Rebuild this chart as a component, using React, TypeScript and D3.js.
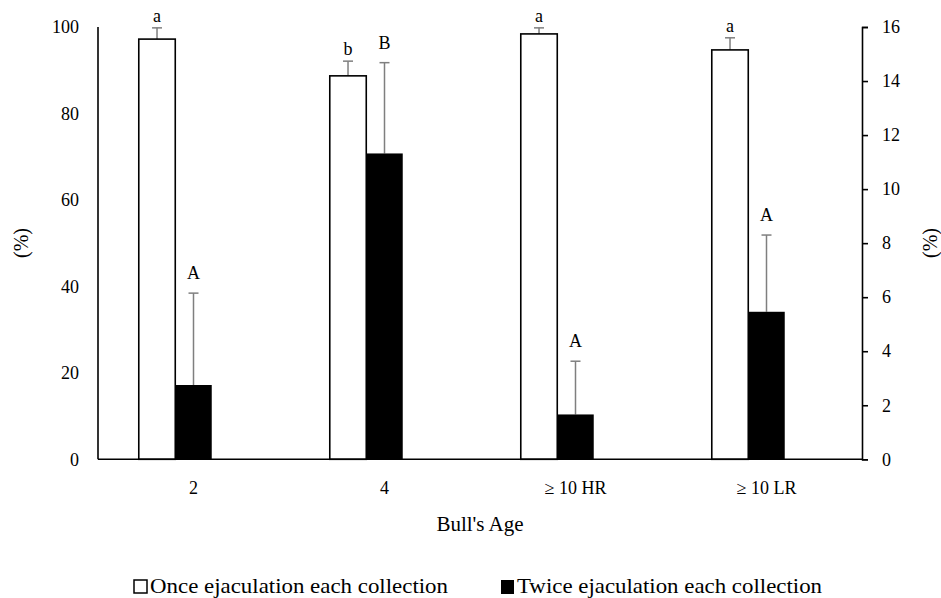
import * as d3 from 'd3'
import { useEffect, useRef } from 'react'

const categories = ['2', '4', '≥ 10 HR', '≥ 10 LR']
const onceValues = [97.2, 88.7, 98.4, 94.7]
const onceErrors = [2.6, 3.4, 1.4, 2.8]
const onceLetters = ['a', 'b', 'a', 'a']
const twiceValues = [2.75, 11.32, 1.66, 5.46]
const twiceErrors = [3.4, 3.36, 1.97, 2.84]
const twiceLetters = ['A', 'B', 'A', 'A']
const leftTicks = [0, 20, 40, 60, 80, 100]
const rightTicks = [0, 2, 4, 6, 8, 10, 12, 14, 16]

const W = 941
const H = 598
const FONT = 'Liberation Serif, DejaVu Serif, Times New Roman, serif'

export default function App() {
  const ref = useRef<SVGSVGElement>(null)

  useEffect(() => {
    const svg = d3.select(ref.current)
    svg.selectAll('*').remove()
    const left = 98, right = 862, top = 27, bottom = 459.3

    const x0 = d3.scaleBand().domain(categories).range([left, right]).paddingInner(0.427).paddingOuter(0.2135)
    // third slot is empty (hidden series in the original)
    const x1 = d3.scaleBand().domain(['once', 'twice', 'blank']).range([0, x0.bandwidth()])
    const yL = d3.scaleLinear().domain([0, 100]).range([bottom, top])
    const yR = d3.scaleLinear().domain([0, 16]).range([bottom, top])

    const g = svg.append('g').style('font-family', FONT)

    // white bars
    categories.forEach((c, i) => {
      const x = (x0(c) as number) + (x1('once') as number)
      const bw = x1.bandwidth()
      const cx = x + bw / 2
      const capY = yL(onceValues[i] + onceErrors[i])
      g.append('line').attr('x1', cx).attr('x2', cx).attr('y1', yL(onceValues[i])).attr('y2', capY)
        .attr('stroke', '#7f7f7f').attr('stroke-width', 1.5)
      g.append('line').attr('x1', cx - 5).attr('x2', cx + 5).attr('y1', capY).attr('y2', capY)
        .attr('stroke', '#7f7f7f').attr('stroke-width', 1.5)
      g.append('rect').attr('x', x).attr('y', yL(onceValues[i])).attr('width', bw)
        .attr('height', bottom - yL(onceValues[i])).attr('fill', '#fff').attr('stroke', '#000').attr('stroke-width', 1.6)
      g.append('text').attr('x', cx).attr('y', capY - 6).attr('text-anchor', 'middle')
        .attr('font-size', 18).text(onceLetters[i])
    })

    // black bars
    categories.forEach((c, i) => {
      const x = (x0(c) as number) + (x1('twice') as number)
      const bw = x1.bandwidth()
      const cx = x + bw / 2
      const capY = yR(twiceValues[i] + twiceErrors[i])
      g.append('line').attr('x1', cx).attr('x2', cx).attr('y1', yR(twiceValues[i])).attr('y2', capY)
        .attr('stroke', '#7f7f7f').attr('stroke-width', 1.5)
      g.append('line').attr('x1', cx - 5).attr('x2', cx + 5).attr('y1', capY).attr('y2', capY)
        .attr('stroke', '#7f7f7f').attr('stroke-width', 1.5)
      g.append('rect').attr('x', x).attr('y', yR(twiceValues[i])).attr('width', bw)
        .attr('height', bottom - yR(twiceValues[i])).attr('fill', '#000')
      g.append('text').attr('x', cx).attr('y', capY - 14).attr('text-anchor', 'middle')
        .attr('font-size', 18).text(twiceLetters[i])
    })

    // left axis (no tick marks)
    g.append('line').attr('x1', left).attr('x2', left).attr('y1', top).attr('y2', bottom)
      .attr('stroke', '#000').attr('stroke-width', 1.6)
    leftTicks.forEach(t => {
      g.append('text').attr('x', 79).attr('y', yL(t)).attr('dy', '0.35em').attr('text-anchor', 'end')
        .attr('font-size', 18).text(t)
    })

    // right axis
    const rAxis = g.append('g').attr('transform', `translate(${right},0)`)
      .call(d3.axisRight(yR).tickValues(rightTicks).tickSize(6).tickPadding(14))
    rAxis.select('.domain').attr('stroke-width', 1.6)
    rAxis.selectAll('.tick line').attr('stroke-width', 1.6)
    rAxis.selectAll('text').attr('font-family', FONT).attr('font-size', 18).attr('fill', '#000')

    // baseline
    g.append('line').attr('x1', left).attr('x2', right).attr('y1', bottom).attr('y2', bottom)
      .attr('stroke', '#000').attr('stroke-width', 1.6)

    // category labels
    categories.forEach(c => {
      g.append('text').attr('x', (x0(c) as number) + x0.bandwidth() / 2).attr('y', 494)
        .attr('text-anchor', 'middle').attr('font-size', 18).text(c)
    })

    g.append('text').attr('x', 480).attr('y', 531).attr('text-anchor', 'middle')
      .attr('font-size', 21).text("Bull's Age")

    g.append('text').attr('transform', 'translate(28,243) rotate(-90)').attr('text-anchor', 'middle')
      .attr('font-size', 20).text('(%)')
    g.append('text').attr('transform', 'translate(937,243) rotate(-90)').attr('text-anchor', 'middle')
      .attr('font-size', 20).text('(%)')

    // legend
    g.append('rect').attr('x', 134).attr('y', 580).attr('width', 13).attr('height', 13)
      .attr('fill', '#fff').attr('stroke', '#000').attr('stroke-width', 1.5)
    g.append('text').attr('x', 150).attr('y', 593).attr('font-size', 21)
      .attr('textLength', 298).attr('lengthAdjust', 'spacingAndGlyphs')
      .text('Once ejaculation each collection')
    g.append('rect').attr('x', 501).attr('y', 580).attr('width', 13).attr('height', 14).attr('fill', '#000')
    g.append('text').attr('x', 517).attr('y', 593).attr('font-size', 21)
      .attr('textLength', 305).attr('lengthAdjust', 'spacingAndGlyphs')
      .text('Twice ejaculation each collection')
  }, [])

  return (
    <svg ref={ref} width={W} height={H} style={{ position: 'absolute', left: 0, top: 0, background: '#fff' }} />
  )
}
